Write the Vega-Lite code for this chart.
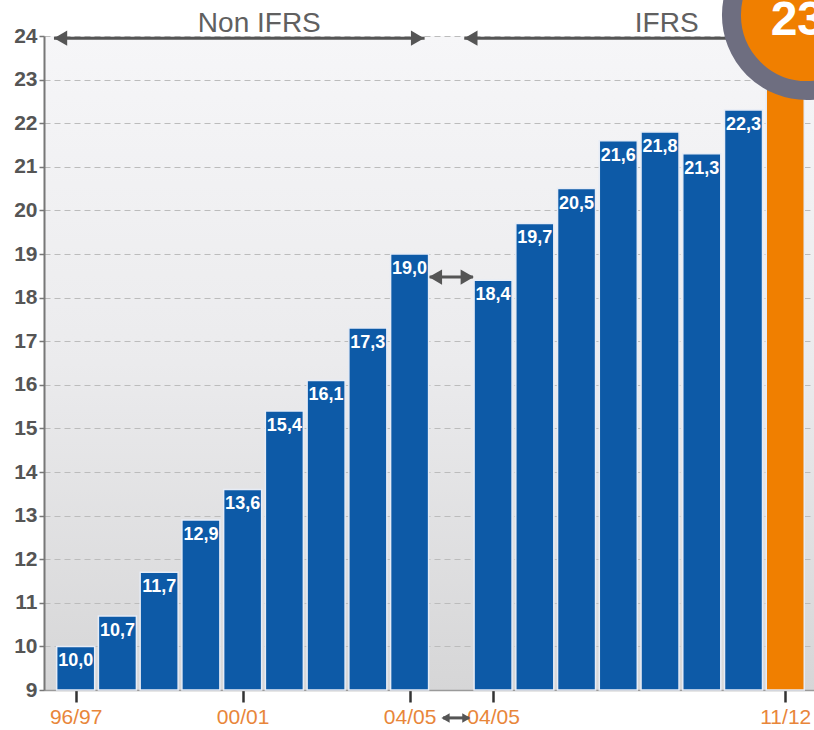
{
  "$schema": "https://vega.github.io/schema/vega-lite/v6.json",
  "width": 770,
  "height": 654,
  "autosize": "none",
  "padding": {"left": 44, "top": 36, "right": 0, "bottom": 40},
  "background": "white",
  "config": {
    "font": "Liberation Sans",
    "view": {
      "stroke": null,
      "fill": {
        "gradient": "linear", "x1": 0, "y1": 0, "x2": 0, "y2": 1,
        "stops": [
          {"offset": 0, "color": "#f6f6f8"},
          {"offset": 0.5, "color": "#ebebed"},
          {"offset": 1, "color": "#d6d6d7"}
        ]
      }
    },
    "locale": {"number": {"decimal": ",", "thousands": ".", "grouping": [3], "currency": ["", " €"]}}
  },
  "datasets": {
    "bars": [
      {"i": 0, "year": "96/97", "v": 10.0, "kind": "actual"},
      {"i": 1, "year": "97/98", "v": 10.7, "kind": "actual"},
      {"i": 2, "year": "98/99", "v": 11.7, "kind": "actual"},
      {"i": 3, "year": "99/00", "v": 12.9, "kind": "actual"},
      {"i": 4, "year": "00/01", "v": 13.6, "kind": "actual"},
      {"i": 5, "year": "01/02", "v": 15.4, "kind": "actual"},
      {"i": 6, "year": "02/03", "v": 16.1, "kind": "actual"},
      {"i": 7, "year": "03/04", "v": 17.3, "kind": "actual"},
      {"i": 8, "year": "04/05", "v": 19.0, "kind": "actual"},
      {"i": 10, "year": "04/05", "v": 18.4, "kind": "actual"},
      {"i": 11, "year": "05/06", "v": 19.7, "kind": "actual"},
      {"i": 12, "year": "06/07", "v": 20.5, "kind": "actual"},
      {"i": 13, "year": "07/08", "v": 21.6, "kind": "actual"},
      {"i": 14, "year": "08/09", "v": 21.8, "kind": "actual"},
      {"i": 15, "year": "09/10", "v": 21.3, "kind": "actual"},
      {"i": 16, "year": "10/11", "v": 22.3, "kind": "actual"},
      {"i": 17, "year": "11/12", "v": 23.0, "kind": "target"}
    ],
    "lines": [
      {"x": -0.52, "x2": 8.36, "y": 23.95, "kind": "big"},
      {"x": 9.31, "x2": 17.0, "y": 23.95, "kind": "big"},
      {"x": 8.48, "x2": 9.52, "y": 18.47, "kind": "big"},
      {"x": 8.8, "x2": 9.42, "y": 8.36, "kind": "small"}
    ],
    "heads": [
      {"x": -0.36, "y": 23.95, "dir": "left", "kind": "big"},
      {"x": 8.19, "y": 23.95, "dir": "right", "kind": "big"},
      {"x": 9.47, "y": 23.95, "dir": "left", "kind": "big"},
      {"x": 8.62, "y": 18.47, "dir": "left", "kind": "big"},
      {"x": 9.38, "y": 18.47, "dir": "right", "kind": "big"},
      {"x": 8.86, "y": 8.36, "dir": "left", "kind": "small"},
      {"x": 9.36, "y": 8.36, "dir": "right", "kind": "small"}
    ],
    "titles": [
      {"x": 4.4, "y": 24.27, "t": "Non IFRS"},
      {"x": 14.16, "y": 24.27, "t": "IFRS"}
    ],
    "badge": [
      {"x": 17.52, "y": 24.48, "ty": 24.02, "tx": 17.29, "t": "23"}
    ]
  },
  "layer": [
    {
      "data": {"name": "bars"},
      "mark": {"type": "bar", "width": 38, "stroke": "#e6ecf6", "strokeWidth": 1.5},
      "encoding": {
        "x": {
          "field": "i", "type": "quantitative",
          "scale": {"domain": [-0.639, 17.569], "nice": false, "zero": false},
          "axis": {
            "title": null, "grid": false,
            "values": [0, 4, 8, 10, 17],
            "labelExpr": "datum.value == 0 ? '96/97' : datum.value == 4 ? '00/01' : datum.value == 8 ? '04/05' : datum.value == 10 ? '04/05' : '11/12'",
            "labelColor": "#e8863a", "labelFontSize": 21, "labelPadding": 4,
            "tickColor": "#333333", "tickWidth": 2.5, "tickSize": 12,
            "domainColor": "#9a9a9a", "domainWidth": 1.5
          }
        },
        "y": {
          "field": "v", "type": "quantitative",
          "scale": {"domain": [9, 24], "nice": false, "zero": false},
          "axis": {
            "title": null,
            "values": [9, 9.5, 10, 10.5, 11, 11.5, 12, 12.5, 13, 13.5, 14, 14.5, 15, 15.5, 16, 16.5, 17, 17.5, 18, 18.5, 19, 19.5, 20, 20.5, 21, 21.5, 22, 22.5, 23, 23.5, 24],
            "labelExpr": "datum.value % 1 == 0 ? datum.label : ''",
            "tickOpacity": {"condition": {"test": "datum.value % 1 == 0", "value": 1}, "value": 0},
            "labelFontSize": 21, "labelFontWeight": "bold", "labelColor": "#555555", "labelPadding": 2,
            "tickColor": "#777777", "tickSize": 5, "tickWidth": 1.5,
            "domainColor": "#777777", "domainWidth": 2,
            "grid": true, "gridColor": "#bcbcbc", "gridDash": [6, 4], "gridWidth": 1.2
          }
        },
        "y2": {"datum": 9},
        "color": {
          "field": "kind", "type": "nominal",
          "scale": {"domain": ["actual", "target"], "range": ["#0d5aa7", "#f07f00"]},
          "legend": null
        }
      }
    },
    {
      "data": {"name": "bars"},
      "transform": [{"filter": "datum.kind == 'actual'"}],
      "mark": {"type": "text", "fontWeight": "bold", "fontSize": 18, "color": "white", "baseline": "middle", "dy": 15},
      "encoding": {
        "x": {"field": "i", "type": "quantitative"},
        "y": {"field": "v", "type": "quantitative"},
        "text": {"field": "v", "type": "quantitative", "format": ".1f"}
      }
    },
    {
      "data": {"name": "lines"},
      "mark": {"type": "rule", "color": "#555555", "strokeWidth": 3},
      "encoding": {
        "x": {"field": "x", "type": "quantitative"},
        "x2": {"field": "x2"},
        "y": {"field": "y", "type": "quantitative"}
      }
    },
    {
      "data": {"name": "heads"},
      "mark": {"type": "point", "filled": true, "color": "#555555", "opacity": 1},
      "encoding": {
        "x": {"field": "x", "type": "quantitative"},
        "y": {"field": "y", "type": "quantitative"},
        "shape": {"field": "dir", "type": "nominal", "scale": {"domain": ["left", "right"], "range": ["triangle-left", "triangle-right"]}, "legend": null},
        "size": {"field": "kind", "type": "nominal", "scale": {"domain": ["big", "small"], "range": [230, 90]}, "legend": null}
      }
    },
    {
      "data": {"name": "titles"},
      "mark": {"type": "text", "fontSize": 28, "color": "#606060", "baseline": "middle", "align": "center"},
      "encoding": {
        "x": {"field": "x", "type": "quantitative"},
        "y": {"field": "y", "type": "quantitative"},
        "text": {"field": "t"}
      }
    },
    {
      "data": {"name": "badge"},
      "mark": {"type": "point", "filled": true, "fill": "#f07f00", "stroke": "#6e6e80", "strokeWidth": 19, "opacity": 1, "strokeOpacity": 1, "fillOpacity": 1, "shape": "circle", "size": 22800},
      "encoding": {
        "x": {"field": "x", "type": "quantitative"},
        "y": {"field": "y", "type": "quantitative"}
      }
    },
    {
      "data": {"name": "badge"},
      "mark": {"type": "text", "fontSize": 48, "fontWeight": "bold", "color": "white", "baseline": "alphabetic", "align": "center"},
      "encoding": {
        "x": {"field": "tx", "type": "quantitative"},
        "y": {"field": "ty", "type": "quantitative"},
        "text": {"field": "t"}
      }
    }
  ]
}
